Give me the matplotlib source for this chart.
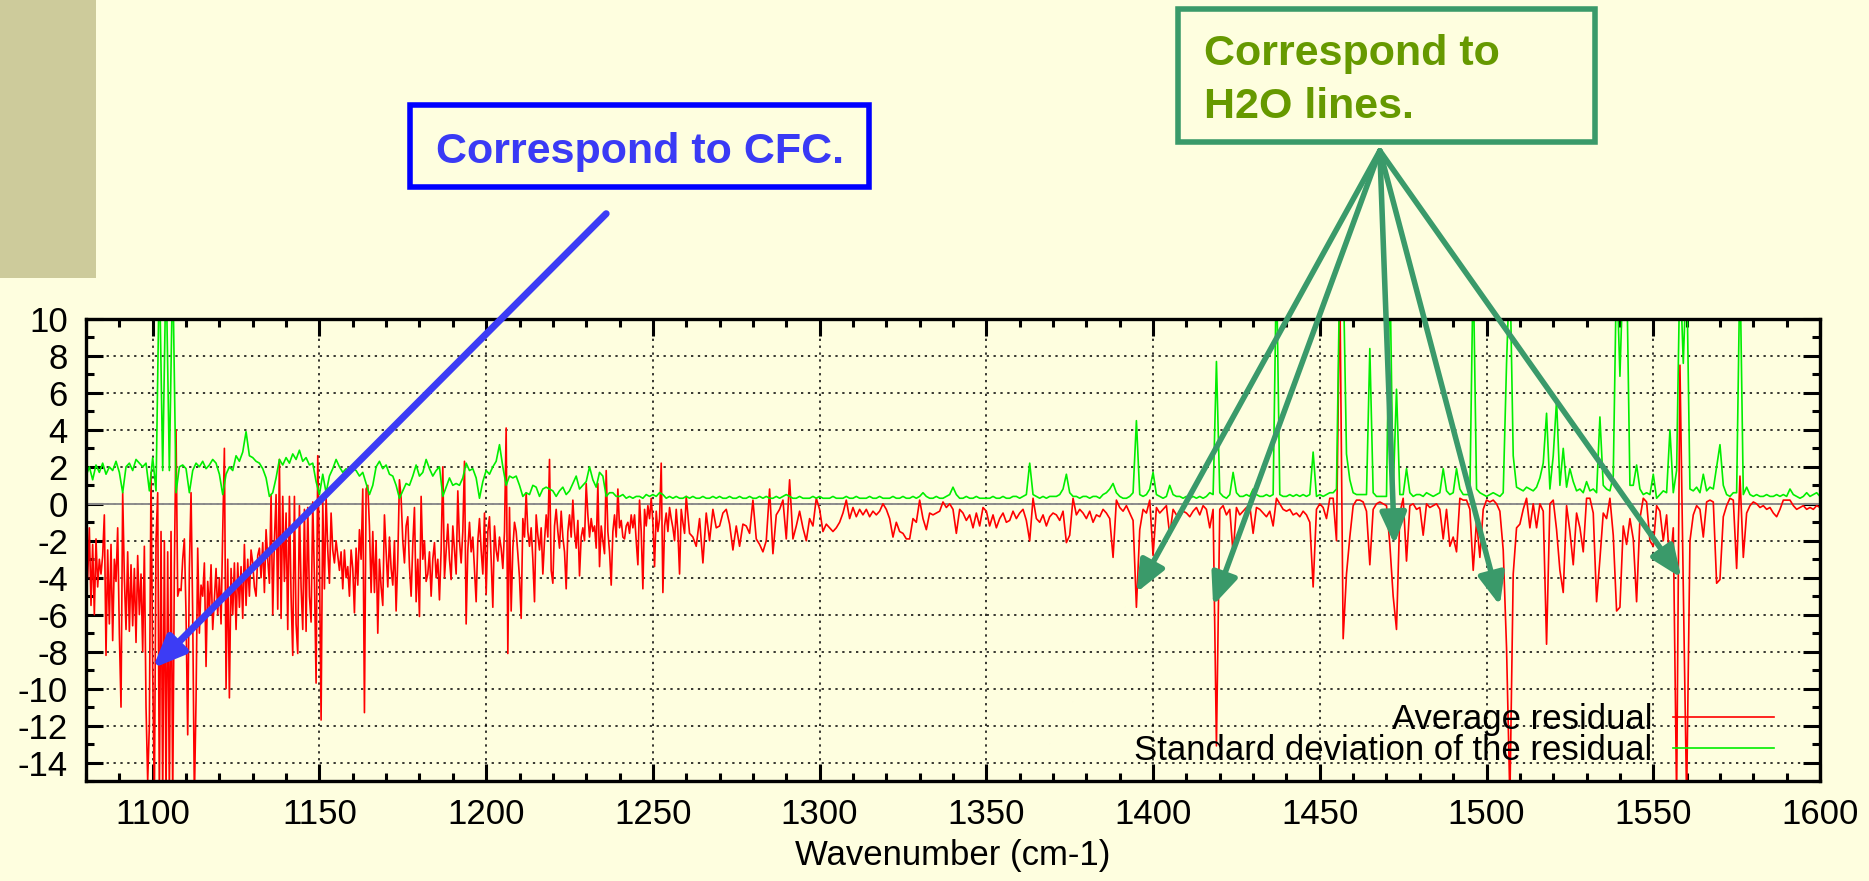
import numpy as np
import matplotlib.pyplot as plt
from matplotlib.patches import Rectangle, FancyArrowPatch
from matplotlib.ticker import MultipleLocator

plt.rcParams['font.family'] = ['Liberation Sans', 'DejaVu Sans']
plt.rcParams['axes.unicode_minus'] = False

# wavenumber grids (cm-1)
wn_fine = np.arange(1080, 1260, 0.5)
wn_coarse = np.arange(1260, 1601, 1)
wn_std = np.arange(1080, 1601, 1)

# average residual, 1080 - 1259.5 (0.5 cm-1 steps)
resid_fine = [
    -1.0, -4.0, -1.3, -5.5, -2.2, -6.0, -1.9, -4.5, -3.0, -3.8, -2.8, -0.6, -8.2, -2.5, -6.5, -2.2, -7.4, -3.0, -4.2, -1.3,
    -7.0, -11.0, 0.6, -4.0, -6.8, -2.6, -6.9, -3.3, -6.6, -3.5, -7.5, -2.8, -6.0, -3.8, -8.0, -2.3, -11.0, -15.0, -12.0, 1.7,
    -9.0, -16.0, -2.0, 0.6, -16.0, -1.5, -16.0, -2.0, -16.0, -2.6, -16.0, -1.5, -16.0, -3.5, 4.0, -5.0, -4.6, -4.7, -3.0, -1.9,
    -6.0, -12.5, -3.5, 0.6, -6.0, -16.0, -10.6, -2.4, -7.0, -4.4, -5.0, -3.2, -8.8, -4.2, -5.9, -3.3, -6.8, -5.2, -3.5, -6.0,
    -4.0, -6.5, -1.5, 3.0, -10.0, -3.0, -10.5, -3.5, -6.0, -3.2, -6.8, -3.2, -5.6, -3.4, -6.2, -2.2, -5.5, -3.0, -5.0, -2.5,
    -3.2, -4.5, -5.0, -2.8, -2.4, -4.0, -2.1, -4.8, -1.4, -3.0, -4.3, 0.5, -6.0, -2.0, 0.5, -5.7, 2.4, -6.2, 0.4, -4.2,
    -0.5, -6.8, 0.4, -5.0, -8.2, 0.4, -6.5, -8.1, -0.1, -4.5, -6.8, -0.3, -6.9, -0.2, -5.0, -6.4, 0.1, -4.0, -9.7, 2.6,
    -3.0, -11.7, 0.1, -4.6, 0.4, -2.5, -4.3, -0.5, -2.5, -3.2, -2.0, -2.8, -3.6, -2.6, -4.6, -2.5, -4.0, -3.4, -5.0, -2.5,
    -3.5, -5.9, -2.4, -4.4, -1.4, -3.0, 0.8, -11.3, 0.8, 1.0, -1.2, -4.8, -1.5, -4.8, -2.0, -7.0, -3.0, -4.5, -5.5, -0.6,
    -2.5, -4.5, -1.8, -3.5, -4.4, -2.0, -5.8, -3.0, 1.3, 0.3, -2.0, -3.2, -1.2, -0.7, -3.4, -5.0, -2.2, -0.2, -5.3, -3.0,
    -6.1, 0.4, -3.0, -2.0, -4.2, -3.8, -2.6, -5.0, -3.0, -2.1, -4.0, -3.0, -5.2, -2.5, 2.0, -4.0, -2.5, -1.1, -3.0, -4.1,
    -1.2, -2.5, -3.8, 0.7, -2.0, -3.2, -1.5, 2.3, -6.5, -2.5, -1.0, -2.6, -1.8, -3.5, -5.3, -2.0, -0.8, -2.5, -3.8, -0.5,
    -4.9, -1.5, -0.7, -3.0, -5.6, -1.2, -2.5, -3.1, -1.8, -2.4, -3.5, -1.5, 4.1, -8.1, -0.2, -5.8, -2.4, -1.0, -1.5, -2.7,
    -4.0, -6.2, -0.8, -1.8, 0.6, -1.5, -2.3, -1.3, -3.0, -5.3, -0.6, -1.7, -2.5, -1.3, -3.8, -2.0, -0.6, -1.8, 2.4, -3.6,
    -4.3, -1.2, -0.3, -1.5, -2.4, -0.4, -1.8, -2.6, -4.6, -1.5, -0.6, -1.8, 0.2, -1.5, -2.4, -0.9, -3.9, -1.8, -1.3, -2.0,
    1.1, -0.6, -1.8, -0.8, -1.5, -1.2, -2.4, 1.1, -3.4, -1.2, -2.0, -2.7, 1.8, -1.5, -2.6, -4.4, -1.5, -0.6, -1.8, 0.8,
    -1.3, -0.9, -1.8, -1.9, -1.2, -1.0, -1.6, -0.6, -1.3, -0.6, -2.0, -3.3, 0.2, -1.5, -4.6, -0.3, -1.2, -0.1, -0.8, 0.3,
    -1.0, -3.4, -0.4, -1.5, -0.8, 2.2, -4.8, -1.2, -0.5, -1.5, -0.2, -0.8, -1.3, -2.0, -0.3, -1.5, -3.8, -0.3, -1.0, -1.6,
]

# average residual, 1260 - 1600 (1 cm-1 steps)
resid_coarse = [
    0.4, -1.6, -1.8, -2.3, -0.8, -3.2, -0.5, -2.0, -0.3, -1.3,
    -1.2, -0.5, -0.3, -1.1, -2.5, -1.2, -2.3, -1.1, -1.2, -1.6,
    0.2, -1.9, -2.2, -2.6, -2.0, 0.8, -2.7, -0.6, -0.3, 0.2,
    -1.9, 1.3, -1.9, -1.2, -0.4, -1.3, -2.0, -0.8, -1.2, 0.3,
    -0.3, -1.5, -1.1, -1.3, -1.5, -1.3, -1.0, -0.5, 0.2, -0.8,
    -0.2, -0.7, -0.3, -0.6, -0.3, -0.7, -0.4, -0.6, -0.4, 0.0,
    -0.3, -0.8, -1.8, -1.0, -1.5, -1.6, -1.9, -1.9, -0.8, -1.0,
    0.2, -0.8, -1.4, -0.5, -0.6, -0.5, -0.4, 0.1, -0.2, 0.0,
    -0.3, -1.6, -0.3, -0.5, -0.9, -0.6, -1.3, -0.5, -1.2, -0.2,
    -0.4, -1.2, -0.6, -1.3, -0.8, -0.5, -1.0, -0.9, -0.4, -0.8,
    -0.5, -0.3, -0.9, -2.0, 0.3, -0.8, -1.0, -0.6, -1.2, -0.7,
    -0.5, -0.6, -0.9, -0.4, -2.1, -1.7, 0.3, -0.6, -0.3, -0.5,
    -0.8, -0.4, -1.0, -0.6, -0.7, -0.3, -0.5, -0.8, -2.9, 0.2,
    -0.2, -0.4, -0.1, -0.5, -0.9, -5.6, -1.4, -0.3, -0.5, 0.2,
    -2.8, -0.2, -0.5, -0.3, -0.1, -1.7, -0.3, -0.6, -0.7, -0.4,
    -0.5, -0.7, -0.4, -0.2, -0.6, -0.1, -0.3, -1.3, -0.3, -13.1,
    -0.3, -0.1, -0.6, -0.3, -2.7, -0.2, -0.6, -0.4, -0.2, -0.1,
    -1.6, -0.2, -0.3, -0.5, -0.7, -0.4, -1.2, 0.3, 0.0, -0.3,
    -0.4, -0.3, -0.6, -0.5, -0.7, -0.4, -0.6, -1.0, -4.5, -0.3,
    0.0, -0.2, -0.8, 0.3, 0.3, -2.0, 12.0, -7.3, -3.8, -1.8,
    -0.1, 0.2, 0.2, 0.1, -0.4, -3.3, -0.3, 0.0, 0.1, 0.0,
    -0.1, -2.2, -5.0, -6.8, -0.5, 0.3, -3.1, -0.1, 0.0, -0.3,
    -0.2, -1.7, 0.0, -0.2, -0.1, 0.0, -0.3, -1.9, -0.3, -2.3,
    -1.8, -2.6, 0.3, 0.2, 0.2, -0.3, -3.6, -0.9, -2.9, -0.3,
    0.2, 0.1, 0.2, 0.0, -0.4, -2.5, -7.8, -16.0, -3.8, -1.3,
    -1.1, -0.3, 0.3, -1.3, 0.0, -1.3, 0.0, -0.4, -7.6, 0.0,
    0.2, -1.4, -3.6, -4.8, -0.1, -1.5, -3.3, -0.5, -1.3, -2.6,
    0.3, 0.3, -0.5, -5.3, -3.0, -0.5, -0.8, 0.3, -1.7, -5.8,
    -5.6, -1.2, -2.2, -0.8, -1.9, -5.3, -0.8, 0.3, 0.1, -2.0,
    -2.3, -0.1, -0.4, -2.0, -0.6, -3.5, -1.3, -16.0, 7.5, -4.5,
    -16.0, -2.0, -0.6, -0.1, -0.3, -1.8, 0.1, 0.2, 0.1, -4.3,
    -4.1, -0.7, -0.1, 0.3, 0.2, -3.5, 1.5, -2.9, -0.5, -0.1,
    0.1, 0.0, -0.2, -0.1, -0.3, -0.2, -0.5, -0.7, -0.3, 0.2,
    0.2, 0.2, -0.1, -0.3, -0.2, -0.1, -0.3, -0.2, -0.3, -0.1,
    -0.2,
]

# standard deviation of the residual, 1080 - 1600 (1 cm-1 steps)
std_resid = [
    1.5, 2.0, 1.3, 2.1, 1.7, 2.2, 1.6, 2.0, 1.8, 2.3,
    1.7, 0.6, 2.0, 2.2, 1.8, 2.4, 2.2, 2.0, 2.2, 0.7,
    2.5, 0.7, 13.0, 1.8, 13.0, 1.8, 13.0, 0.6, 2.0, 2.1,
    1.9, 0.6, 1.8, 2.2, 2.0, 2.3, 1.9, 2.1, 2.4, 2.2,
    1.6, 0.5, 1.6, 2.0, 1.8, 2.6, 2.3, 2.8, 3.9, 2.6,
    2.5, 2.3, 2.2, 1.9, 1.4, 0.4, 0.6, 1.4, 2.4, 2.1,
    2.5, 2.2, 2.7, 2.4, 2.9, 2.3, 2.5, 2.1, 2.2, 1.2,
    0.5, 1.6, 0.6, 1.5, 1.9, 2.4, 2.0, 1.7, 1.9, 1.6,
    1.9, 1.8, 1.5, 1.7, 1.1, 0.5, 1.0, 2.0, 2.3, 1.9,
    2.1, 1.6, 1.5, 1.0, 0.3, 0.7, 1.1, 1.0, 1.5, 2.1,
    1.5, 1.7, 2.4, 1.9, 1.5, 1.8, 2.0, 0.4, 0.9, 1.4,
    1.0, 1.1, 1.0, 1.4, 2.2, 1.8, 1.9, 1.4, 0.3, 1.2,
    1.8, 1.6, 2.0, 2.3, 3.2, 2.0, 1.0, 1.5, 1.4, 1.5,
    1.0, 0.4, 0.6, 0.5, 1.0, 0.9, 0.4, 0.8, 0.9, 0.8,
    0.7, 0.4, 0.7, 0.9, 0.5, 0.7, 1.1, 1.5, 0.8, 1.0,
    1.2, 2.0, 1.3, 0.9, 1.7, 1.5, 0.4, 0.6, 0.6, 0.4,
    0.4, 0.5, 0.3, 0.4, 0.3, 0.4, 0.4, 0.3, 0.5, 0.4,
    0.5, 0.4, 0.6, 0.5, 0.3, 0.4, 0.3, 0.4, 0.3, 0.3,
    0.4, 0.3, 0.4, 0.3, 0.3, 0.4, 0.3, 0.3, 0.4, 0.3,
    0.4, 0.3, 0.3, 0.4, 0.3, 0.3, 0.4, 0.3, 0.3, 0.4,
    0.3, 0.3, 0.4, 0.3, 0.4, 0.3, 0.3, 0.4, 0.3, 0.4,
    0.5, 0.4, 0.3, 0.3, 0.4, 0.3, 0.3, 0.3, 0.4, 0.3,
    0.4, 0.3, 0.3, 0.3, 0.4, 0.3, 0.3, 0.3, 0.4, 0.3,
    0.3, 0.4, 0.3, 0.3, 0.3, 0.4, 0.3, 0.3, 0.4, 0.3,
    0.3, 0.3, 0.4, 0.3, 0.3, 0.4, 0.3, 0.3, 0.4, 0.3,
    0.4, 0.6, 0.4, 0.3, 0.3, 0.4, 0.3, 0.3, 0.4, 0.5,
    0.9, 0.5, 0.3, 0.3, 0.4, 0.3, 0.3, 0.4, 0.3, 0.3,
    0.3, 0.3, 0.4, 0.3, 0.3, 0.4, 0.3, 0.3, 0.4, 0.4,
    0.3, 0.4, 0.5, 2.2, 0.5, 0.4, 0.3, 0.4, 0.3, 0.4,
    0.4, 0.4, 0.5, 0.8, 1.6, 0.6, 0.4, 0.4, 0.3, 0.4,
    0.4, 0.3, 0.4, 0.4, 0.3, 0.5, 0.6, 0.8, 1.1, 0.6,
    0.4, 0.3, 0.3, 0.4, 0.6, 4.5, 0.5, 0.4, 0.5, 0.8,
    1.7, 0.5, 0.4, 0.3, 0.4, 1.0, 0.5, 0.4, 0.4, 0.3,
    0.4, 0.3, 0.4, 0.3, 0.4, 0.3, 0.4, 0.6, 0.5, 7.7,
    0.6, 0.4, 0.3, 0.5, 1.7, 0.6, 0.4, 0.4, 0.5, 0.4,
    0.8, 0.5, 0.4, 0.4, 0.5, 0.4, 0.5, 13.0, 0.5, 0.4,
    0.4, 0.5, 0.4, 0.5, 0.4, 0.5, 0.4, 0.5, 2.8, 0.4,
    0.5, 0.4, 0.5, 0.6, 0.6, 0.8, 13.0, 13.0, 2.7, 1.3,
    0.6, 0.5, 0.5, 0.5, 0.5, 8.4, 0.6, 0.4, 0.4, 0.4,
    0.4, 13.0, 0.6, 6.2, 0.5, 0.5, 1.9, 0.6, 0.4, 0.5,
    0.5, 0.4, 0.6, 0.5, 0.4, 0.5, 0.6, 1.9, 0.7, 0.5,
    0.6, 1.9, 0.8, 0.5, 0.5, 0.5, 13.0, 0.8, 0.6, 0.5,
    0.4, 0.5, 0.6, 0.5, 0.4, 0.6, 7.6, 13.0, 2.6, 0.9,
    0.8, 0.7, 0.9, 0.8, 0.7, 0.9, 1.4, 2.2, 4.9, 0.8,
    2.6, 5.6, 1.0, 3.0, 0.9, 1.9, 1.2, 0.7, 0.8, 0.6,
    1.2, 0.7, 0.8, 0.6, 4.7, 1.0, 0.8, 0.7, 1.5, 13.0,
    6.9, 13.0, 13.0, 1.0, 1.0, 2.1, 0.8, 0.5, 0.6, 0.5,
    1.6, 0.3, 0.5, 0.7, 0.6, 4.0, 0.6, 1.8, 13.0, 7.6,
    13.0, 0.8, 0.7, 0.9, 0.6, 1.6, 0.7, 0.9, 0.8, 2.0,
    3.2, 1.0, 0.5, 0.4, 0.6, 0.6, 13.0, 0.5, 0.9, 0.5,
    0.4, 0.5, 0.4, 0.4, 0.5, 0.4, 0.4, 0.5, 0.4, 0.5,
    0.4, 0.8, 0.5, 0.4, 0.3, 0.4, 0.6, 0.4, 0.5, 0.6,
    0.4,
]

series_labels = ['Average residual', 'Standard deviation of the residual']
x_ticks = np.arange(1100, 1601, 50)
y_ticks = np.arange(-14, 11, 2)

# annotation targets (wavenumber, residual)
cfc_arrow = [(1236, 15.7), (1100, -8.9)]
h2o_origin = (1468, 19.1)
h2o_targets = [(1395, -4.8), (1418, -5.5), (1472.4, -2.2), (1504, -5.5), (1558.4, -4.0)]

wn_resid = np.concatenate([wn_fine, wn_coarse])
resid = np.array(resid_fine + resid_coarse)

bg = '#FEFEDF'
W, H = 1869, 881
fig = plt.figure(figsize=(W / 100, H / 100), dpi=100, facecolor=bg)

# tan strip in the top left corner
fig.patches.append(Rectangle((0, 1 - 278 / H), 96 / W, 278 / H, transform=fig.transFigure,
                             facecolor='#CDCB9B', edgecolor='none', zorder=0))

ax = fig.add_axes([86 / W, 1 - 781 / H, 1734 / W, 462 / H])
ax.set_facecolor('none')

ax.axhline(0, color='#8C8C8C', lw=1.4, zorder=1.5)
ax.plot(wn_resid, resid, color='#FF0000', lw=1.2, label=series_labels[0], zorder=2)
ax.plot(wn_std, std_resid, color='#00EE00', lw=1.2, label=series_labels[1], zorder=2.1)

ax.set_xlim(1080, 1600)
ax.set_ylim(-15, 10)
ax.set_xticks(x_ticks)
ax.set_yticks(y_ticks)
ax.xaxis.set_minor_locator(MultipleLocator(10))
ax.yaxis.set_minor_locator(MultipleLocator(1))
ax.tick_params(which='both', direction='in', top=True, right=True, width=2.2, labelsize=25)
ax.tick_params(which='major', length=12)
ax.tick_params(which='minor', length=6)
ax.tick_params(axis='y', pad=13)
ax.tick_params(axis='x', pad=12)
ax.grid(True, which='major', color='black', linestyle=(0, (1.5, 3)), linewidth=1.1)
ax.set_axisbelow(True)
for s in ax.spines.values():
    s.set_linewidth(2.4)

ax.set_xlabel('Wavenumber (cm-1)', fontsize=25, labelpad=6)

leg = ax.legend(loc='lower right', bbox_to_anchor=(0.9735, 0.03), markerfirst=False, frameon=False,
                fontsize=25, handlelength=2.9, handletextpad=0.6, labelspacing=-0.05,
                borderpad=0, borderaxespad=0)

# CFC annotation
fig.patches.append(Rectangle((410 / W, 1 - 187 / H), 459 / W, 82 / H, transform=fig.transFigure,
                             facecolor='none', edgecolor='#0000FF', lw=4))
fig.text(436 / W, 1 - 163 / H, 'Correspond to CFC.', fontsize=31, fontweight='bold',
         color='#3A3AF5', ha='left', va='baseline')
ax.add_artist(FancyArrowPatch(cfc_arrow[0], cfc_arrow[1], transform=ax.transData,
                              arrowstyle='-|>,head_length=19,head_width=8', mutation_scale=1,
                              color='#3C3CF5', lw=5, clip_on=False, shrinkA=0, shrinkB=0, zorder=6))

# H2O annotation
fig.patches.append(Rectangle((1178 / W, 1 - 142 / H), 417 / W, 133 / H, transform=fig.transFigure,
                             facecolor='none', edgecolor='#3A9A6A', lw=4))
fig.text(1204 / W, 1 - 65 / H, 'Correspond to', fontsize=31, fontweight='bold',
         color='#669900', ha='left', va='baseline')
fig.text(1204 / W, 1 - 118 / H, 'H2O lines.', fontsize=31, fontweight='bold',
         color='#669900', ha='left', va='baseline')
for tx, ty in h2o_targets:
    ax.add_artist(FancyArrowPatch(h2o_origin, (tx, ty), transform=ax.transData,
                                  arrowstyle='-|>,head_length=19,head_width=8', mutation_scale=1,
                                  color='#3A9A6A', lw=4, clip_on=False, shrinkA=0, shrinkB=0, zorder=6))

fig.savefig('out.png', dpi=100, facecolor=bg)
